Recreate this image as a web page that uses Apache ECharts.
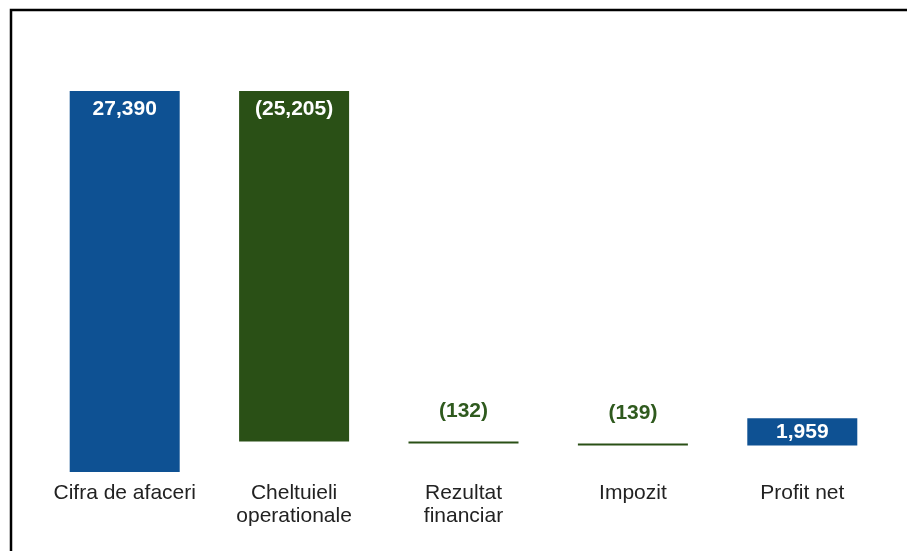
<!DOCTYPE html>
<html><head><meta charset="utf-8">
<script src="https://cdn.jsdelivr.net/npm/echarts@6/dist/echarts.min.js"></script>
<style>html,body{margin:0;padding:0;background:#fff}#c{width:907px;height:551px}</style>
</head><body><div id="c"></div>
<script>
const categories = ['Cifra de afaceri', 'Cheltuieli\noperationale', 'Rezultat\nfinanciar', 'Impozit', 'Profit net'];
const values = [27390, -25205, -132, -139, 1959];
const kinds = ['total', 'delta', 'delta', 'delta', 'total'];

const BLUE = '#0e5193', GREEN = '#2a5016';
const bases = [], heights = [];
let running = 0;
values.forEach((v, i) => {
  if (i === 0) { bases.push(0); heights.push(v); running = v; }
  else if (kinds[i] === 'total') { bases.push(running); heights.push(v); }
  else { running += v; bases.push(v < 0 ? running : running - v); heights.push(Math.abs(v)); }
});
const fmt = v => { const s = Math.abs(v).toLocaleString('en-US'); return v < 0 ? '(' + s + ')' : s; };
const maxV = Math.max(...bases.map((b, i) => b + heights[i]));

const chart = echarts.init(document.getElementById('c'));
chart.setOption({
  animation: false,
  grid: { left: 40, right: 20, top: 91, bottom: 79 },
  xAxis: { type: 'category', data: categories,
    axisLine: { show: false }, axisTick: { show: false },
    axisLabel: { fontFamily: 'Liberation Sans, Arial', fontSize: 21, color: '#222', lineHeight: 23, margin: 10, interval: 0 } },
  yAxis: { type: 'value', min: 0, max: maxV, show: false, splitLine: { show: false } },
  series: [
    { type: 'bar', stack: 'w', barWidth: 110, data: bases, itemStyle: { color: 'transparent' }, silent: true },
    { type: 'bar', stack: 'w', barWidth: 110,
      data: heights.map((h, i) => {
        const big = h / maxV > 0.05;
        const col = values[i] < 0 ? GREEN : BLUE;
        return { value: h, itemStyle: { color: col },
          label: { show: true, formatter: fmt(values[i]),
            position: big ? (h / maxV > 0.5 ? 'insideTop' : 'inside') : 'top',
            distance: big ? 8 : 20,
            color: big ? '#fff' : '#2f5a1e',
            fontFamily: 'Liberation Sans, Arial', fontWeight: 'bold', fontSize: 21 } };
      }) }
  ],
  graphic: [{ type: 'rect', shape: { x: 11, y: 10, width: 1200, height: 1200 },
    style: { fill: 'none', stroke: '#000', lineWidth: 2.5 }, silent: true }]
});
</script></body></html>
